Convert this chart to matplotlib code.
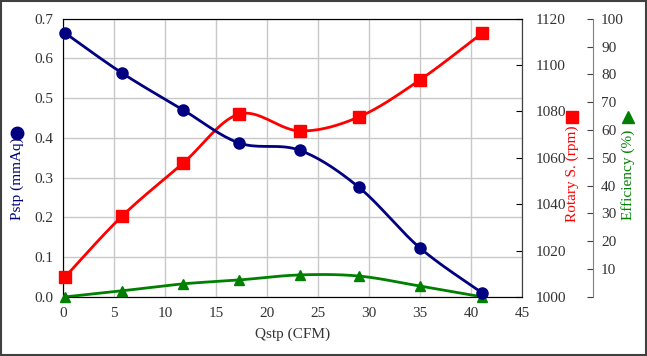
import numpy as np
import matplotlib
matplotlib.use("Agg")
import matplotlib.pyplot as plt
from matplotlib.patches import Rectangle

plt.rcParams['font.family'] = ['Liberation Serif', 'DejaVu Serif']

# data
qstp = [0.2, 5.8, 11.8, 17.3, 23.2, 29.0, 35.0, 41.1]
pstp = [0.664, 0.563, 0.470, 0.387, 0.369, 0.276, 0.123, 0.010]
rpm = [1008.6, 1034.9, 1057.8, 1078.9, 1071.6, 1077.6, 1093.6, 1113.8]
eff = [0.0, 2.2, 4.7, 6.1, 7.9, 7.5, 3.9, 0.0]


def smooth(x, y, n=20):
    # Excel-like smoothed line (Catmull-Rom / Bezier)
    x = np.asarray(x, float)
    y = np.asarray(y, float)
    px = np.concatenate([[x[0]], x, [x[-1]]])
    py = np.concatenate([[y[0]], y, [y[-1]]])
    t = np.linspace(0, 1, n)
    xs, ys = [], []
    for i in range(1, len(px) - 2):
        p0, p1, p2, p3 = (np.array([px[j], py[j]]) for j in range(i - 1, i + 3))
        c1 = p1 + (p2 - p0) / 6
        c2 = p2 - (p3 - p1) / 6
        pts = ((1 - t) ** 3)[:, None] * p1 + (3 * (1 - t) ** 2 * t)[:, None] * c1 \
            + (3 * (1 - t) * t ** 2)[:, None] * c2 + (t ** 3)[:, None] * p2
        xs.extend(pts[:, 0])
        ys.extend(pts[:, 1])
    return xs, ys


navy, red, green = '#000080', '#FF0000', '#008000'
txt = '#333333'

fig = plt.figure(figsize=(6.47, 3.56), dpi=100)
ax = fig.add_axes([0.0974, 0.166, 0.7094, 0.7815])
ax2 = ax.twinx()
ax3 = ax.twinx()

# efficiency (third axis)
sx, sy = smooth(qstp, eff)
ax3.plot(sx, sy, color=green, lw=2, zorder=2)
ax3.plot(qstp, eff, ls='none', marker='^', ms=7, color=green, clip_on=False, zorder=3)
ax3.set_ylim(0, 100)
ax3.set_yticks(range(0, 101, 10))
ax3.set_yticklabels([''] + [str(v) for v in range(10, 101, 10)])
ax3.spines['right'].set_position(('axes', 1.154))
for s in ['top', 'left', 'bottom']:
    ax3.spines[s].set_visible(False)
ax3.spines['right'].set_color('#808080')
ax3.tick_params(axis='y', direction='in', length=4, labelsize=11, color='#404040',
                labelcolor=txt, pad=6)

# rotary speed
sx, sy = smooth(qstp, rpm)
ax2.plot(sx, sy, color=red, lw=2, zorder=2)
ax2.plot(qstp, rpm, ls='none', marker='s', ms=8, color=red, clip_on=False, zorder=3)
ax2.set_ylim(1000, 1120)
ax2.set_yticks(range(1000, 1121, 20))
ax2.tick_params(axis='y', direction='in', length=4, labelsize=11, labelcolor=txt, pad=10)
ax2.spines['right'].set_color('#404040')

# static pressure
sx, sy = smooth(qstp, pstp)
ax3.plot(np.array(sx), np.array(sy) / 0.7 * 100, color=navy, lw=2, zorder=4)
ax3.plot(qstp, np.array(pstp) / 0.7 * 100, ls='none', marker='o', ms=8, color=navy,
         clip_on=False, zorder=5)

ax.set_xlim(0, 45)
ax.set_ylim(0, 0.7)
ax.set_xticks(range(0, 46, 5))
ax.set_yticks(np.arange(0, 0.71, 0.1))
ax.set_yticklabels([f'{v:.1f}' for v in np.arange(0, 0.71, 0.1)])
ax.grid(True, color='#c8c8c8', lw=1)
ax.tick_params(labelsize=11, length=0, pad=7, labelcolor=txt)
for s in ax.spines.values():
    s.set_color('#404040')
ax.set_xlabel('Qstp (CFM)', fontsize=11, labelpad=6, color=txt)

# axis labels with series markers
ax.text(-0.10, 0.424, 'Pstp (mmAq)', color=navy, rotation=90, fontsize=11,
        ha='center', va='center', transform=ax.transAxes)
ax.plot([-0.10], [0.589], marker='o', ms=9, color=navy, transform=ax.transAxes, clip_on=False)
ax.text(1.109, 0.444, 'Rotary S. (rpm)', color=red, rotation=90, fontsize=11,
        ha='center', va='center', transform=ax.transAxes)
ax.plot([1.109], [0.647], marker='s', ms=9, color=red, transform=ax.transAxes, clip_on=False)
ax.text(1.231, 0.438, 'Efficiency (%)', color=green, rotation=90, fontsize=11,
        ha='center', va='center', transform=ax.transAxes)
ax.plot([1.231], [0.647], marker='^', ms=9, color=green, transform=ax.transAxes, clip_on=False)

fig.patches.append(Rectangle((0.001, 0.002), 0.997, 0.995, transform=fig.transFigure,
                             fill=False, edgecolor='#404040', lw=1.5))

fig.savefig('out.png', dpi=100)
